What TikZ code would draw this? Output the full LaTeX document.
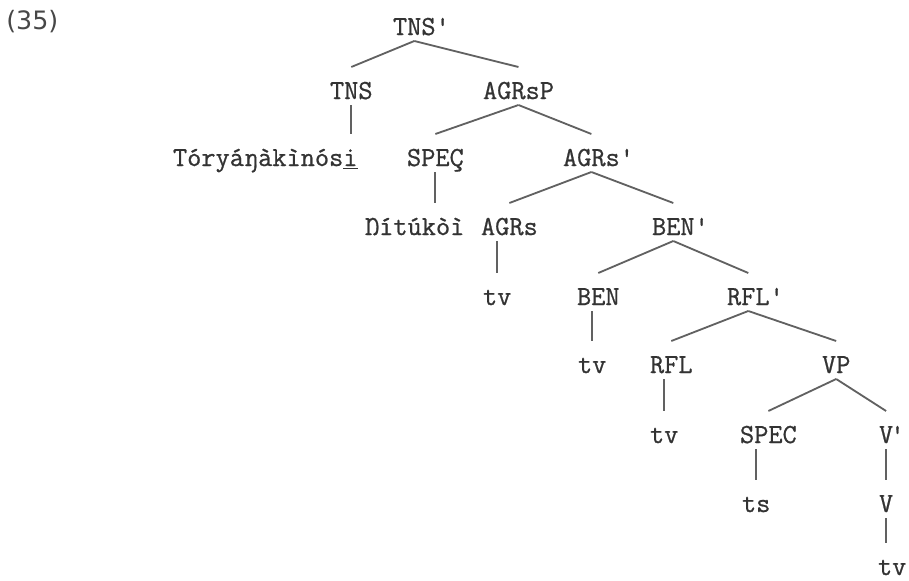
\documentclass[tikz,border=0pt]{standalone}
\usepackage{fontspec}
\newfontfamily\treefont{Latin Modern Mono}[FakeBold=0.8]
\newfontfamily\numfont{DejaVu Sans}
\begin{document}
\begin{tikzpicture}[x=0.025cm, y=-0.025cm,
	lbl/.style={anchor=base west, inner sep=0pt, outer xsep=0pt, outer ysep=0.05cm,
		text height=0.75cm, text depth=0.1cm, text=black!80,
		font=\fontsize{19.6}{24}\selectfont\treefont},
	branch/.style={draw=black!62, line width=1.3pt}]
\useasboundingbox (0,0) rectangle (909,580);
% example number
\node[anchor=base west, inner sep=0pt, text=black!72, font=\fontsize{18}{20}\selectfont\numfont] (exnum) at (6,29) {(35)};
% labels, row by row
\node[lbl] (tnsbar) at (393,35) {TNS\rlap{\textquotesingle}};
\node[lbl] (tns) at (330,99) {TNS};
\node[lbl] (agrsp) at (483,99) {AGRsP};
\node[lbl] (tory) at (173,166) {Tóryáŋàkìnós\underline{i}};
\node[lbl] (specb) at (407,166) {SPEÇ};
\node[lbl] (agrsbar) at (563,166) {AGRs\rlap{\textquotesingle}};
\node[lbl] (nituk) at (365,235) {Ŋítúkòì};
\node[lbl] (agrs) at (481,235) {AGRs};
\node[lbl] (benbar) at (652,235) {BEN\rlap{\textquotesingle}};
\node[lbl] (tva) at (483,305) {tv};
\node[lbl] (ben) at (577,305) {BEN};
\node[lbl] (rflbar) at (727,305) {RFL\rlap{\textquotesingle}};
\node[lbl] (tvb) at (578,373) {tv};
\node[lbl] (rfl) at (650,373) {RFL};
\node[lbl] (vp) at (822,373) {VP};
\node[lbl] (tvc) at (650,443) {tv};
\node[lbl] (spec) at (740,443) {SPEC};
\node[lbl] (vbar) at (879,443) {V\rlap{\kern-2pt\textquotesingle}};
\node[lbl] (ts) at (742,512) {ts};
\node[lbl] (v) at (879,512) {V};
\node[lbl] (tvd) at (878,575) {tv};
% binary branches
\foreach \a/\b in {tnsbar/tns, tnsbar/agrsp, agrsp/specb, agrsp/agrsbar,
	agrsbar/agrs, agrsbar/benbar, benbar/ben, benbar/rflbar,
	rflbar/rfl, rflbar/vp, vp/spec, vp/vbar}
	\draw[branch] (\a.south) -- (\b.north);
% unary branches, straight down
\foreach \a/\b/\c in {tns/tory/tns, specb/nituk/specb, agrs/tva/tva, ben/tvb/tvb,
	rfl/tvc/tvc, spec/ts/ts, vbar/v/v, v/tvd/v}
	\draw[branch] (\a.south -| \c.south) -- (\b.north -| \c.south);
\end{tikzpicture}
\end{document}
